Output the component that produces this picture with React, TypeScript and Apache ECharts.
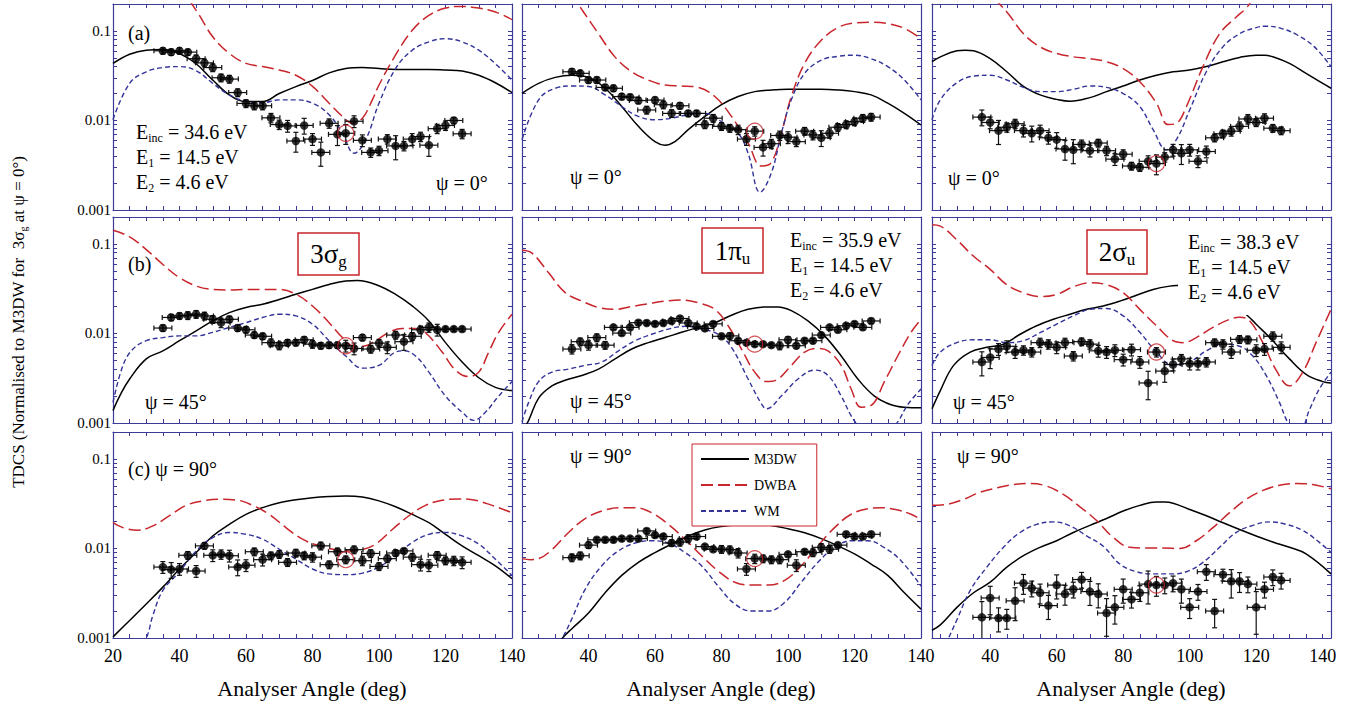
import React, { useEffect, useRef } from 'react';
import * as echarts from 'echarts';

const FONT = 'Liberation Serif, serif';
const AXIS_COLOR = '#3c3c98';
const RED = '#c8262c';
const BLUE = '#33339a';

// ---------- axes ----------
const X_TICKS = [20, 25, 30, 35, 40, 45, 50, 55, 60, 65, 70, 75, 80, 85, 90, 95, 100, 105, 110, 115, 120, 125, 130, 135, 140];
const X_LABELS_FIRST = [20, 40, 60, 80, 100, 120, 140];
const X_LABELS_OTHER = [40, 60, 80, 100, 120, 140];
const X_RANGES = [[20, 140], [20, 140], [22.5, 142.5]];
const Y_LABELS = [0.001, 0.01, 0.1];
const Y_TICKS = [0.001, 0.002, 0.003, 0.004, 0.005, 0.006, 0.007, 0.008, 0.009,
  0.01, 0.02, 0.03, 0.04, 0.05, 0.06, 0.07, 0.08, 0.09, 0.1];
const ANGLE_ERR = 2.7;

// ---------- experiment: [angle, TDCS, relative error] ----------
const EXP_A1 = [[35,0.060,0.08],[37.5,0.058,0.08],[40,0.060,0.08],[42.5,0.058,0.08],[45,0.049,0.1],[47.5,0.044,0.1],[50,0.039,0.1],[52.5,0.030,0.1],[55,0.029,0.1],[57.5,0.0205,0.1],[60,0.0155,0.1],[62.5,0.0146,0.1],[65,0.0146,0.1],[67.5,0.0107,0.12],[70,0.0090,0.12],[72.5,0.0087,0.15],[75,0.0059,0.25],[77.5,0.0088,0.2],[80,0.0062,0.15],[82.5,0.0044,0.3],[85,0.0093,0.12],[87.5,0.0070,0.25],[90,0.0072,0.25],[92.5,0.0098,0.15],[95,0.0060,0.15],[97.5,0.0044,0.12],[100,0.0046,0.12],[102.5,0.0062,0.12],[105,0.0052,0.3],[107.5,0.0052,0.12],[110,0.0062,0.15],[112.5,0.0066,0.12],[115,0.0053,0.25],[117.5,0.0081,0.12],[120,0.0088,0.12],[122.5,0.010,0.08],[125,0.0071,0.12]];
const EXP_A2 = [[35,0.035,0.08],[37.5,0.0336,0.08],[40,0.0283,0.08],[42.5,0.0283,0.08],[45,0.0234,0.08],[47.5,0.0229,0.08],[50,0.0185,0.08],[52.5,0.0182,0.08],[55,0.0167,0.08],[57.5,0.0131,0.1],[60,0.0169,0.08],[62.5,0.015,0.1],[65,0.012,0.1],[67.5,0.0146,0.08],[70,0.012,0.08],[72.5,0.012,0.08],[75,0.009,0.1],[77.5,0.0106,0.1],[80,0.0086,0.1],[82.5,0.0082,0.1],[85,0.0079,0.12],[87.5,0.0062,0.15],[90,0.0076,0.12],[92.5,0.0050,0.2],[95,0.0055,0.12],[97.5,0.0068,0.12],[100,0.0065,0.15],[102.5,0.0058,0.12],[105,0.0076,0.1],[107.5,0.0069,0.12],[110,0.0064,0.2],[112.5,0.0072,0.12],[115,0.0084,0.1],[117.5,0.009,0.1],[120,0.0097,0.1],[122.5,0.0106,0.1],[125,0.0109,0.1]];
const EXP_A3 = [[37.5,0.0109,0.2],[40,0.0095,0.15],[42.5,0.0077,0.3],[45,0.0084,0.12],[47.5,0.0092,0.12],[50,0.0077,0.15],[52.5,0.0072,0.2],[55,0.0077,0.15],[57.5,0.0064,0.15],[60,0.0061,0.2],[62.5,0.0048,0.25],[65,0.0047,0.3],[67.5,0.0054,0.12],[70,0.0046,0.15],[72.5,0.0056,0.1],[75,0.0046,0.12],[77.5,0.0037,0.15],[80,0.0042,0.12],[82.5,0.0031,0.1],[85,0.0030,0.1],[87.5,0.0035,0.15],[90,0.0033,0.25],[92.5,0.0039,0.12],[95,0.0047,0.15],[97.5,0.0043,0.25],[100,0.0047,0.15],[102.5,0.0035,0.15],[105,0.0045,0.15],[107.5,0.0064,0.1],[110,0.0071,0.1],[112.5,0.0076,0.12],[115,0.0086,0.12],[117.5,0.0104,0.12],[120,0.0095,0.1],[122.5,0.0106,0.12],[125,0.0082,0.1],[127.5,0.0077,0.1]];
const EXP_B1 = [[35,0.0115,0.08],[37.5,0.0151,0.08],[40,0.0157,0.08],[42.5,0.0159,0.1],[45,0.0164,0.1],[47.5,0.0157,0.1],[50,0.0144,0.1],[52.5,0.0132,0.12],[55,0.0144,0.08],[57.5,0.0115,0.08],[60,0.011,0.08],[62.5,0.0096,0.08],[65,0.0093,0.08],[67.5,0.0079,0.1],[70,0.0073,0.1],[72.5,0.0079,0.08],[75,0.0079,0.08],[77.5,0.0085,0.08],[80,0.0076,0.1],[82.5,0.0073,0.08],[85,0.0074,0.08],[87.5,0.0074,0.08],[90,0.0073,0.15],[92.5,0.0068,0.15],[95,0.009,0.08],[97.5,0.0067,0.1],[100,0.0078,0.1],[102.5,0.007,0.15],[105,0.0096,0.1],[107.5,0.0081,0.2],[110,0.0093,0.1],[112.5,0.011,0.1],[115,0.0117,0.12],[117.5,0.011,0.15],[120,0.0112,0.06],[122.5,0.0112,0.06],[125,0.0112,0.06]];
const EXP_B2 = [[35,0.0067,0.12],[37.5,0.0081,0.1],[40,0.0074,0.12],[42.5,0.009,0.1],[45,0.0074,0.1],[47.5,0.0117,0.06],[50,0.0101,0.06],[52.5,0.0117,0.06],[55,0.0132,0.06],[57.5,0.0131,0.06],[60,0.0128,0.06],[62.5,0.0131,0.06],[65,0.0138,0.06],[67.5,0.0147,0.06],[70,0.0131,0.06],[72.5,0.012,0.06],[75,0.0114,0.06],[77.5,0.0128,0.06],[80,0.0093,0.06],[82.5,0.0094,0.08],[85,0.0083,0.06],[87.5,0.0079,0.06],[90,0.0076,0.06],[92.5,0.0076,0.06],[95,0.0074,0.06],[97.5,0.0073,0.1],[100,0.0085,0.08],[102.5,0.0073,0.06],[105,0.0083,0.06],[107.5,0.0083,0.06],[110,0.0096,0.06],[112.5,0.0117,0.06],[115,0.011,0.06],[117.5,0.0122,0.06],[120,0.0128,0.06],[122.5,0.0117,0.06],[125,0.0138,0.06]];
const EXP_B3 = [[37.5,0.0048,0.3],[40,0.0054,0.25],[42.5,0.0067,0.15],[45,0.0072,0.15],[47.5,0.0062,0.15],[50,0.0065,0.12],[52.5,0.0062,0.12],[55,0.0079,0.12],[57.5,0.0076,0.12],[60,0.007,0.15],[62.5,0.0079,0.12],[65,0.0056,0.12],[67.5,0.0081,0.1],[70,0.0076,0.12],[72.5,0.0064,0.15],[75,0.0062,0.15],[77.5,0.0065,0.15],[80,0.0051,0.15],[82.5,0.0066,0.15],[85,0.0048,0.15],[87.5,0.0028,0.35],[90,0.0062,0.12],[92.5,0.0038,0.25],[95,0.0045,0.15],[97.5,0.0052,0.12],[100,0.0046,0.15],[102.5,0.0046,0.15],[105,0.0048,0.12],[107.5,0.0079,0.1],[110,0.0076,0.12],[112.5,0.0062,0.15],[115,0.0086,0.1],[117.5,0.0085,0.1],[120,0.0065,0.15],[122.5,0.0067,0.15],[125,0.0093,0.12],[127.5,0.007,0.15]];
const EXP_C1 = [[35,0.0062,0.15],[37.5,0.0058,0.2],[40,0.0059,0.15],[42.5,0.0084,0.1],[45,0.0056,0.15],[47.5,0.0107,0.08],[50,0.0084,0.15],[52.5,0.0086,0.12],[55,0.0083,0.15],[57.5,0.0062,0.2],[60,0.0065,0.15],[62.5,0.0092,0.1],[65,0.0075,0.15],[67.5,0.0083,0.1],[70,0.0086,0.1],[72.5,0.007,0.1],[75,0.0089,0.1],[77.5,0.0083,0.1],[80,0.008,0.12],[82.5,0.0107,0.1],[85,0.0066,0.1],[87.5,0.0092,0.1],[90,0.0075,0.1],[92.5,0.0097,0.1],[95,0.0073,0.12],[97.5,0.0088,0.1],[100,0.0063,0.1],[102.5,0.0077,0.1],[105,0.0089,0.08],[107.5,0.0094,0.06],[110,0.008,0.1],[112.5,0.0066,0.15],[115,0.0065,0.15],[117.5,0.0084,0.1],[120,0.0073,0.1],[122.5,0.0073,0.12],[125,0.007,0.15]];
const EXP_C2 = [[35,0.0079,0.1],[37.5,0.0083,0.1],[40,0.0109,0.08],[42.5,0.0125,0.06],[45,0.0125,0.06],[47.5,0.0125,0.06],[50,0.0129,0.06],[52.5,0.0129,0.06],[55,0.0129,0.06],[57.5,0.0157,0.06],[60,0.0141,0.06],[62.5,0.0136,0.06],[65,0.0115,0.08],[67.5,0.0118,0.1],[70,0.0129,0.1],[72.5,0.0136,0.06],[75,0.0105,0.06],[77.5,0.0098,0.06],[80,0.0098,0.1],[82.5,0.0097,0.1],[85,0.0089,0.12],[87.5,0.0059,0.15],[90,0.0077,0.12],[92.5,0.0077,0.1],[95,0.0075,0.1],[97.5,0.0075,0.1],[100,0.0086,0.06],[102.5,0.0065,0.15],[105,0.0092,0.06],[107.5,0.009,0.1],[110,0.0103,0.1],[112.5,0.0098,0.1],[115,0.0109,0.06],[117.5,0.0144,0.06],[120,0.0136,0.06],[122.5,0.0136,0.06],[125,0.0144,0.06]];
const EXP_C3 = [[37.5,0.0017,0.5],[40,0.0028,0.35],[42.5,0.00167,0.3],[45,0.00167,0.25],[47.5,0.0026,0.4],[50,0.0041,0.25],[52.5,0.0036,0.2],[55,0.0032,0.25],[57.5,0.0023,0.3],[60,0.0039,0.3],[62.5,0.0031,0.25],[65,0.0035,0.2],[67.5,0.0045,0.2],[70,0.0033,0.3],[72.5,0.0031,0.3],[75,0.0019,0.45],[77.5,0.0022,0.35],[80,0.0035,0.3],[82.5,0.0027,0.2],[85,0.0032,0.2],[87.5,0.0040,0.4],[90,0.0039,0.25],[92.5,0.0039,0.2],[95,0.0041,0.2],[97.5,0.0035,0.3],[100,0.0022,0.25],[102.5,0.0033,0.2],[105,0.0055,0.2],[107.5,0.002,0.35],[110,0.0051,0.15],[112.5,0.0043,0.35],[115,0.0043,0.25],[117.5,0.004,0.2],[120,0.0022,0.5],[122.5,0.0035,0.2],[125,0.0048,0.2],[127.5,0.0044,0.2]];

// ---------- theory: [angle, TDCS] ----------
const M3DW_A1 = [[20,0.0434],[25,0.055],[30,0.061],[35,0.062],[40,0.056],[45,0.043],[50,0.0283],[55,0.0193],[60,0.0163],[65,0.0163],[70,0.020],[75,0.0239],[80,0.028],[85,0.034],[90,0.038],[95,0.039],[100,0.038],[105,0.0372],[110,0.0372],[115,0.0372],[120,0.0366],[125,0.0357],[130,0.032],[135,0.0264],[140,0.0205]];
const DWBA_A1 = [[20,1.2],[30,0.6],[40,0.3],[45,0.17],[50,0.086],[55,0.056],[60,0.0434],[65,0.040],[70,0.0366],[75,0.032],[80,0.024],[85,0.0156],[89,0.0111],[92,0.0093],[95,0.0106],[98,0.017],[100,0.0249],[105,0.054],[110,0.1016],[115,0.149],[120,0.18],[125,0.188],[130,0.18],[135,0.163],[140,0.134]];
const WM_A1 = [[20,0.0102],[25,0.026],[30,0.035],[35,0.039],[40,0.040],[45,0.036],[50,0.026],[55,0.0193],[60,0.0164],[65,0.0158],[70,0.017],[75,0.017],[80,0.0156],[85,0.0116],[89,0.0072],[92.5,0.0043],[96,0.0061],[100,0.0156],[105,0.038],[110,0.061],[115,0.0755],[120,0.082],[125,0.0755],[130,0.061],[135,0.043],[140,0.0283]];
const M3DW_A2 = [[20,0.0201],[25,0.026],[30,0.0303],[35,0.032],[40,0.0303],[45,0.0229],[50,0.0143],[55,0.0086],[60,0.0058],[63,0.0053],[66,0.0058],[70,0.0079],[75,0.0111],[80,0.015],[85,0.0185],[90,0.021],[95,0.0219],[100,0.0223],[105,0.0223],[110,0.0223],[115,0.0219],[120,0.021],[125,0.0193],[130,0.0156],[135,0.012],[140,0.0089]];
const DWBA_A2 = [[20,0.9],[30,0.4],[35,0.25],[38.5,0.163],[43,0.093],[48,0.051],[53,0.035],[58,0.0283],[63,0.0249],[68,0.0243],[73,0.0234],[78,0.0185],[83,0.0111],[88,0.0056],[92,0.0031],[95,0.0034],[98,0.0072],[101,0.0185],[105,0.0434],[110,0.0787],[115,0.109],[120,0.123],[125,0.125],[130,0.121],[135,0.107],[140,0.082]];
const WM_A2 = [[20,0.0061],[25,0.017],[30,0.0229],[35,0.0243],[40,0.024],[45,0.0193],[50,0.0143],[55,0.0111],[60,0.0102],[65,0.0106],[70,0.0116],[75,0.012],[80,0.0097],[85,0.0072],[88,0.0043],[91.6,0.00158],[95,0.0026],[98,0.0072],[101,0.017],[105,0.0336],[110,0.0472],[115,0.052],[120,0.0536],[125,0.049],[130,0.040],[135,0.0283],[140,0.017]];
const M3DW_A3 = [[22.5,0.0453],[25,0.0514],[30,0.060],[32.5,0.061],[35,0.060],[40,0.049],[45,0.035],[50,0.024],[55,0.0193],[60,0.0172],[64,0.0164],[70,0.018],[75,0.021],[80,0.0243],[85,0.0283],[90,0.032],[95,0.035],[100,0.0366],[105,0.040],[110,0.0453],[115,0.0506],[120,0.0536],[122.5,0.0536],[125,0.0514],[130,0.0434],[135,0.0336],[140,0.026],[142.5,0.0229]];
const DWBA_A3 = [[22.5,1.0],[30,0.5],[40,0.25],[45,0.163],[50,0.093],[55,0.0664],[60,0.056],[65,0.0514],[70,0.049],[75,0.0453],[80,0.038],[85,0.0271],[90,0.0156],[93.5,0.009],[96,0.0093],[99,0.0143],[104,0.040],[109,0.093],[114,0.143],[117,0.18],[120,0.25],[125,0.35],[130,0.4],[135,0.4],[142.5,0.35]];
const WM_A3 = [[22.5,0.0102],[25,0.017],[30,0.0264],[35,0.0313],[40,0.032],[45,0.0283],[50,0.0234],[55,0.021],[60,0.021],[65,0.0223],[70,0.0243],[75,0.0234],[80,0.020],[85,0.0143],[89,0.0079],[93,0.0047],[96,0.0061],[100,0.0131],[105,0.035],[110,0.0664],[115,0.093],[120,0.109],[123,0.113],[127.5,0.107],[132.5,0.0895],[137.5,0.0664],[142.5,0.040]];

const M3DW_B1 = [[20,0.00138],[22,0.002],[25,0.0031],[30,0.0052],[35,0.0064],[40,0.0083],[45,0.0107],[50,0.0138],[55,0.0171],[60,0.0195],[65,0.0212],[70,0.024],[75,0.0274],[80,0.0311],[85,0.0353],[90,0.0385],[93.5,0.039],[99,0.0353],[105,0.0274],[110,0.0203],[115,0.0138],[120,0.0079],[125,0.0048],[130,0.0032],[135,0.0025],[140,0.0023]];
const DWBA_B1 = [[20,0.142],[25,0.12],[30,0.0865],[35,0.059],[40,0.042],[45,0.0339],[50,0.031],[55,0.0306],[60,0.031],[65,0.031],[70,0.031],[75,0.0274],[80,0.0203],[85,0.0132],[89,0.009],[92,0.0073],[95,0.0072],[99,0.0083],[103,0.0103],[107,0.0114],[111,0.0114],[114,0.0102],[119,0.0062],[123,0.0039],[127,0.0033],[130,0.0037],[133,0.0062],[136,0.0103],[140,0.0164]];
const WM_B1 = [[20,0.0017],[23,0.0044],[26,0.0067],[30,0.0083],[35,0.009],[40,0.0094],[45,0.0094],[50,0.0103],[55,0.0117],[60,0.0132],[65,0.0151],[70,0.0164],[75,0.0157],[80,0.0127],[85,0.0083],[90,0.0056],[95,0.0041],[100,0.0044],[105,0.0062],[107.5,0.0064],[111,0.0056],[115,0.0037],[120,0.002],[125,0.00132],[128.5,0.00107],[132,0.00132],[136,0.002],[140,0.0029]];
const M3DW_B2 = [[20,0.0008],[22,0.00107],[25,0.0019],[29,0.0026],[33,0.003],[38,0.0034],[43,0.004],[48,0.0052],[53,0.0067],[58,0.0079],[63,0.009],[68,0.0103],[73,0.0117],[78,0.0132],[83,0.016],[88,0.0186],[93,0.0198],[97,0.0198],[101,0.018],[106,0.0138],[111,0.0094],[116,0.0056],[121,0.0031],[126,0.002],[131,0.0016],[135,0.0015],[140,0.00148]];
const DWBA_B2 = [[20,0.085],[23,0.079],[28,0.0476],[33,0.0286],[38,0.023],[43,0.0195],[48,0.0186],[53,0.02],[58,0.0215],[63,0.023],[68,0.0236],[73,0.022],[78,0.0186],[82,0.0122],[86,0.0067],[90,0.0037],[93.5,0.0029],[97,0.0031],[101,0.0044],[105,0.0062],[109,0.0068],[112,0.0064],[116,0.0044],[119,0.0024],[122,0.0015],[125,0.00157],[129,0.0029],[133,0.0056],[137,0.0103],[140,0.0144]];
const WM_B2 = [[20,0.00103],[22,0.0017],[25,0.0029],[29,0.0037],[34,0.004],[39,0.0044],[44,0.0048],[49,0.0064],[54,0.0083],[59,0.0098],[64,0.0112],[69,0.012],[74,0.0112],[79,0.0098],[83,0.007],[88,0.0031],[92,0.00164],[93.5,0.00144],[98,0.002],[103,0.0031],[108,0.0039],[112,0.0034],[116,0.002],[119,0.0012],[121,0.00095],[125,0.0007],[129,0.0007],[133,0.00103],[136,0.0016],[140,0.0024]];
const M3DW_B3 = [[22.5,0.00144],[25,0.0023],[29,0.0044],[34,0.0062],[39,0.007],[44,0.0076],[49,0.0098],[54,0.0122],[59,0.0144],[64,0.0164],[69,0.0186],[74,0.0203],[79,0.023],[84,0.0267],[89,0.031],[94,0.0338],[97,0.0344],[101,0.035],[105,0.032],[110,0.026],[114,0.02],[117.5,0.0157],[120,0.0127],[125,0.0083],[130,0.0052],[135,0.0035],[140,0.0029],[142.5,0.0028]];
const DWBA_B3 = [[22.5,0.164],[25,0.158],[30,0.111],[35,0.0728],[40,0.052],[45,0.035],[50,0.0285],[55,0.0258],[60,0.0273],[65,0.0332],[70,0.0369],[75,0.035],[80,0.0285],[85,0.0186],[90,0.0122],[95,0.0083],[98,0.0079],[102,0.009],[107,0.0117],[112,0.0144],[115,0.0152],[118,0.0139],[122,0.0079],[126,0.0039],[130,0.0026],[134,0.0037],[138,0.0079],[142.5,0.0186]];
const WM_B3 = [[22.5,0.0044],[25,0.0062],[30,0.0079],[35,0.0085],[40,0.0085],[45,0.0079],[50,0.0083],[55,0.0102],[60,0.0127],[65,0.0157],[70,0.0186],[75,0.019],[80,0.0157],[85,0.0103],[90,0.0062],[95,0.0044],[100,0.0048],[105,0.0064],[110,0.0076],[115,0.0072],[119,0.0056],[123,0.0034],[127,0.0017],[130,0.00095],[133,0.0008],[136,0.0014],[139,0.0024],[142.5,0.0037]];

const M3DW_C1 = [[20,0.00103],[25,0.00157],[30,0.0024],[35,0.0037],[40,0.0059],[45,0.009],[50,0.0138],[55,0.0186],[60,0.024],[65,0.0286],[70,0.0325],[75,0.035],[80,0.0369],[85,0.038],[90,0.0385],[95,0.0375],[100,0.034],[105,0.0292],[110,0.024],[115,0.0194],[120,0.0144],[125,0.0107],[130,0.0083],[135,0.0064],[140,0.0046]];
const DWBA_C1 = [[20,0.0195],[23,0.0171],[27.5,0.016],[32,0.0179],[37,0.0233],[42,0.0303],[47,0.034],[52,0.0354],[57,0.0348],[62,0.0303],[67,0.024],[72,0.0171],[77,0.0127],[82,0.0107],[87,0.0097],[91,0.0094],[95,0.0097],[99,0.0112],[104,0.0163],[109,0.0232],[114,0.0303],[119,0.0345],[124,0.0358],[129,0.0345],[134,0.0303],[140,0.0251]];
const WM_C1 = [[20,0.0002],[25,0.0005],[30,0.001],[32,0.00179],[35,0.0034],[40,0.0055],[45,0.0094],[50,0.0132],[55,0.0151],[60,0.0144],[65,0.0127],[70,0.0098],[75,0.0076],[80,0.0059],[85,0.0052],[90,0.0051],[95,0.0053],[100,0.0062],[105,0.0083],[110,0.0117],[115,0.0144],[120,0.0151],[125,0.0138],[130,0.0112],[135,0.0076],[140,0.005]];
const M3DW_C2 = [[20,0.0003],[28,0.0006],[32,0.00098],[35,0.00127],[40,0.0019],[45,0.0032],[50,0.005],[55,0.007],[60,0.009],[65,0.0112],[70,0.0138],[75,0.0161],[80,0.0176],[85,0.0185],[90,0.0189],[95,0.0181],[100,0.0166],[105,0.015],[110,0.0129],[115,0.0107],[120,0.0087],[125,0.0067],[130,0.005],[135,0.0032],[140,0.0021]];
const DWBA_C2 = [[20,0.0077],[22.5,0.0075],[25,0.0077],[29,0.0097],[34,0.0151],[39,0.0216],[44,0.0262],[49,0.0285],[54,0.0285],[59,0.0251],[64,0.0186],[69,0.0127],[74,0.0083],[79,0.0056],[84,0.0042],[89,0.0039],[94,0.0039],[99,0.0044],[104,0.0064],[109,0.0107],[114,0.0171],[119,0.0241],[124,0.0278],[128,0.0285],[133,0.0269],[137,0.0241],[140,0.0211]];
const WM_C2 = [[20,0.0003],[28,0.0006],[32,0.00098],[35,0.00164],[39,0.0035],[44,0.0064],[49,0.0094],[54,0.0115],[59,0.0122],[64,0.0115],[69,0.009],[74,0.0064],[79,0.0038],[84,0.0024],[89,0.002],[94,0.002],[99,0.0025],[104,0.0042],[109,0.007],[114,0.0102],[119,0.0122],[124,0.0122],[129,0.0102],[134,0.0073],[140,0.0038]];
const M3DW_C3 = [[22.5,0.00122],[25,0.0014],[30,0.0022],[35,0.0032],[40,0.0042],[45,0.0062],[50,0.0083],[55,0.0103],[60,0.0122],[65,0.0151],[70,0.0181],[75,0.0216],[80,0.0262],[85,0.0303],[90,0.033],[92.5,0.033],[95,0.032],[100,0.0273],[105,0.0232],[110,0.0194],[115,0.0163],[120,0.0138],[125,0.0118],[130,0.0103],[135,0.0087],[142.5,0.0052]];
const DWBA_C3 = [[22.5,0.0303],[27,0.0311],[32,0.0354],[37,0.0425],[42,0.0475],[47,0.0518],[52,0.0531],[57,0.0497],[62,0.0401],[67,0.0292],[72,0.0205],[77,0.0133],[82,0.0103],[87,0.0101],[92,0.0101],[97,0.01],[102,0.0122],[107,0.0171],[112,0.0251],[117,0.0354],[122,0.0445],[127,0.0507],[132,0.0531],[137,0.0518],[142.5,0.0464]];
const WM_C3 = [[22.5,0.0004],[27.5,0.001],[30,0.0016],[34,0.0034],[39,0.0062],[44,0.0103],[49,0.0151],[54,0.0186],[59,0.0198],[64,0.0179],[69,0.0138],[74,0.0106],[79,0.0067],[84,0.0055],[89,0.0052],[94,0.0052],[99,0.0055],[104,0.007],[109,0.0103],[114,0.0151],[119,0.0181],[124,0.0198],[129,0.0186],[134,0.0159],[139,0.0117],[142.5,0.009]];

const PANELS = [
  { exp: EXP_A1, m3dw: M3DW_A1, dwba: DWBA_A1, wm: WM_A1 },
  { exp: EXP_A2, m3dw: M3DW_A2, dwba: DWBA_A2, wm: WM_A2 },
  { exp: EXP_A3, m3dw: M3DW_A3, dwba: DWBA_A3, wm: WM_A3 },
  { exp: EXP_B1, m3dw: M3DW_B1, dwba: DWBA_B1, wm: WM_B1 },
  { exp: EXP_B2, m3dw: M3DW_B2, dwba: DWBA_B2, wm: WM_B2 },
  { exp: EXP_B3, m3dw: M3DW_B3, dwba: DWBA_B3, wm: WM_B3 },
  { exp: EXP_C1, m3dw: M3DW_C1, dwba: DWBA_C1, wm: WM_C1 },
  { exp: EXP_C2, m3dw: M3DW_C2, dwba: DWBA_C2, wm: WM_C2 },
  { exp: EXP_C3, m3dw: M3DW_C3, dwba: DWBA_C3, wm: WM_C3 },
];

// ---------- layout ----------
const GRID_LEFT = [113, 522, 932];
const GRID_TOP = [4, 217, 432];
const GRID_W = 399;
const GRID_H = 206;

function makeX(i: number, col: number, position: string, showLabels: boolean) {
  const [min, max] = X_RANGES[col];
  return {
    type: 'value', gridIndex: i, position, min, max,
    axisLine: { show: true, onZero: false, lineStyle: { color: AXIS_COLOR, width: 1.2 } },
    axisTick: { show: true, inside: true, length: 4, customValues: X_TICKS.filter((v) => v >= min && v <= max), lineStyle: { color: AXIS_COLOR, width: 1 } },
    axisLabel: { show: showLabels, customValues: col === 0 ? X_LABELS_FIRST : X_LABELS_OTHER, fontFamily: FONT, fontSize: 18, color: '#000', margin: 9 },
    splitLine: { show: false },
  };
}

function makeY(i: number, position: string, showLabels: boolean) {
  return {
    type: 'log', logBase: 10, gridIndex: i, position, min: 0.001, max: 0.2,
    axisLine: { show: true, onZero: false, lineStyle: { color: AXIS_COLOR, width: 1.2 } },
    axisTick: { show: true, inside: true, length: 4, customValues: Y_TICKS, lineStyle: { color: AXIS_COLOR, width: 1 } },
    axisLabel: {
      show: showLabels, customValues: Y_LABELS,
      formatter: (v: number) => String(Number(Number(v).toPrecision(1))),
      fontFamily: FONT, fontSize: 15, color: '#000', margin: 2,
    },
    splitLine: { show: false },
  };
}

const errRender = (params: any, api: any) => {
  const a = api.value(0);
  const v = api.value(1);
  const e = api.value(2);
  const c = api.coord([a, v]);
  const l = api.coord([a - ANGLE_ERR, v]);
  const r = api.coord([a + ANGLE_ERR, v]);
  const t = api.coord([a, v * (1 + e)]);
  const b = api.coord([a, v * (1 - e)]);
  const cap = 2.5;
  const st = { stroke: '#111', lineWidth: 1.2 };
  const ln = (x1: number, y1: number, x2: number, y2: number) => ({ type: 'line', shape: { x1, y1, x2, y2 }, style: st });
  return {
    type: 'group',
    children: [
      ln(l[0], c[1], r[0], c[1]),
      ln(l[0], c[1] - cap, l[0], c[1] + cap),
      ln(r[0], c[1] - cap, r[0], c[1] + cap),
      ln(c[0], t[1], c[0], b[1]),
      ln(c[0] - cap, t[1], c[0] + cap, t[1]),
      ln(c[0] - cap, b[1], c[0] + cap, b[1]),
    ],
  };
};

const plain = (x: number, y: number, text: string, size = 20, extra: any = {}) => ({
  type: 'text', x, y, z: 100,
  style: { text, fontFamily: FONT, fontSize: size, fill: '#000', align: 'left', verticalAlign: 'middle', ...extra },
});

const subText = (x: number, y: number, main: string, sub: string, rest: string, size = 20, extra: any = {}) => ({
  type: 'text', x, y, z: 100,
  style: {
    text: `{m|${main}}{s|${sub}}{m|${rest}}`,
    align: 'left', verticalAlign: 'middle',
    fontFamily: FONT,
    rich: {
      m: { fontSize: size, fontFamily: FONT, fill: '#000', lineHeight: Math.round(size * 1.2) },
      s: { fontSize: Math.round(size * 0.62), fontFamily: FONT, fill: '#000', lineHeight: Math.round(size * 0.62), verticalAlign: 'bottom' },
    },
    ...extra,
  },
});

const energyBlock = (x: number, y: number, inc: string) => [
  subText(x, y, 'E', 'inc', ` = ${inc} eV`),
  subText(x, y + 25, 'E', '1', ' = 14.5 eV'),
  subText(x, y + 50, 'E', '2', ' = 4.6 eV'),
];

const orbitalBox = (x: number, y: number, w: number, h: number, main: string, sub: string) => [
  { type: 'rect', z: 100, shape: { x, y, width: w, height: h }, style: { fill: '#fff', stroke: RED, lineWidth: 1.5 } },
  subText(x + w / 2, y + h / 2, main, sub, '', 27, { align: 'center' }),
];

export default function App() {
  const ref = useRef<HTMLDivElement>(null);
  useEffect(() => {
    document.body.style.margin = '0';
    if (!ref.current) return;
    const chart = echarts.init(ref.current, undefined, { renderer: 'svg' });

    const grid: any[] = [];
    const xAxis: any[] = [];
    const yAxis: any[] = [];
    const series: any[] = [];
    PANELS.forEach((p, i) => {
      const row = Math.floor(i / 3);
      const col = i % 3;
      grid.push({ left: GRID_LEFT[col], top: GRID_TOP[row], width: GRID_W, height: GRID_H });
      xAxis.push(makeX(i, col, 'bottom', row === 2));
      yAxis.push(makeY(i, 'left', col === 0));
    });
    PANELS.forEach((p, i) => {
      const col = i % 3;
      xAxis.push(makeX(i, col, 'top', false));
      yAxis.push(makeY(i, 'right', false));
    });
    PANELS.forEach((p, i) => {
      const base = { xAxisIndex: i, yAxisIndex: i };
      series.push({ ...base, type: 'line', name: 'M3DW', data: p.m3dw, symbol: 'none', smooth: 0.4, lineStyle: { color: '#000', width: 1.5 }, itemStyle: { color: '#000' }, z: 3 });
      series.push({ ...base, type: 'line', name: 'DWBA', data: p.dwba, symbol: 'none', smooth: 0.4, lineStyle: { color: RED, width: 1.5, type: [12, 5] }, itemStyle: { color: RED }, z: 3 });
      series.push({ ...base, type: 'line', name: 'WM', data: p.wm, symbol: 'none', smooth: 0.4, lineStyle: { color: BLUE, width: 1.4, type: [5, 3] }, itemStyle: { color: BLUE }, z: 3 });
      series.push({ ...base, type: 'custom', name: 'err', data: p.exp, renderItem: errRender, encode: { x: 0, y: 1 }, clip: true, z: 4, silent: true });
      series.push({ ...base, type: 'scatter', name: 'Experiment', data: p.exp.map((d) => [d[0], d[1]]), symbol: 'circle', symbolSize: 8.5, itemStyle: { color: '#000' }, z: 5 });
      const ref90 = p.exp.find((d) => d[0] === 90);
      series.push({ ...base, type: 'scatter', name: 'Normalisation point', data: ref90 ? [[ref90[0], ref90[1]]] : [], symbol: 'circle', symbolSize: 16, itemStyle: { color: 'rgba(255,255,255,0)', borderColor: RED, borderWidth: 1.2 }, z: 6 });
    });

    const graphic: any[] = [
      // y-axis title
      {
        type: 'text', x: 18, y: 322, rotation: Math.PI / 2, z: 100,
        style: {
          text: '{m|TDCS (Normalised to M3DW for  3σ}{s|g}{m| at ψ = 0°)}',
          align: 'center', verticalAlign: 'middle', fontFamily: FONT,
          rich: {
            m: { fontSize: 17, fontFamily: FONT, fill: '#000', lineHeight: 20 },
            s: { fontSize: 10, fontFamily: FONT, fill: '#000', lineHeight: 10, verticalAlign: 'bottom' },
          },
        },
      },
      plain(312, 688, 'Analyser Angle (deg)', 22, { align: 'center' }),
      plain(721, 688, 'Analyser Angle (deg)', 22, { align: 'center' }),
      plain(1131, 688, 'Analyser Angle (deg)', 22, { align: 'center' }),
      plain(128, 33, '(a)', 20),
      plain(128, 264, '(b)', 20),
      plain(128, 469, '(c) ψ = 90°', 20),
      ...energyBlock(136, 132, '34.6'),
      plain(436, 183, 'ψ = 0°', 20),
      plain(570, 177, 'ψ = 0°', 20),
      plain(948, 178, 'ψ = 0°', 20),
      plain(145, 402, 'ψ = 45°', 20),
      plain(570, 401, 'ψ = 45°', 20),
      plain(953, 402, 'ψ = 45°', 20),
      plain(570, 456, 'ψ = 90°', 20),
      plain(957, 456, 'ψ = 90°', 20),
      ...orbitalBox(298, 233, 61, 42, '3σ', 'g'),
      ...orbitalBox(702, 228, 61, 45, '1π', 'u'),
      ...orbitalBox(1087, 230, 60, 44, '2σ', 'u'),
      ...energyBlock(790, 240, '35.9'),
      { type: 'rect', z: 90, shape: { x: 1178, y: 226, width: 135, height: 89 }, style: { fill: '#fff' } },
      ...energyBlock(1188, 242, '38.3'),
    ];

    chart.setOption({
      animation: false,
      backgroundColor: '#fff',
      grid,
      xAxis,
      yAxis,
      series,
      legend: {
        data: ['M3DW', 'DWBA', 'WM'],
        orient: 'vertical',
        left: 692, top: 444,
        itemWidth: 48, itemHeight: 12, itemGap: 12,
        padding: [8, 20, 8, 8],
        borderColor: RED, borderWidth: 1,
        backgroundColor: '#fff',
        selectedMode: false,
        itemStyle: { opacity: 0 },
        textStyle: { fontFamily: FONT, fontSize: 14, color: '#000' },
        z: 10,
      },
      graphic: { elements: graphic },
    });
    return () => chart.dispose();
  }, []);
  return <div ref={ref} style={{ width: 1365, height: 704 }} />;
}
